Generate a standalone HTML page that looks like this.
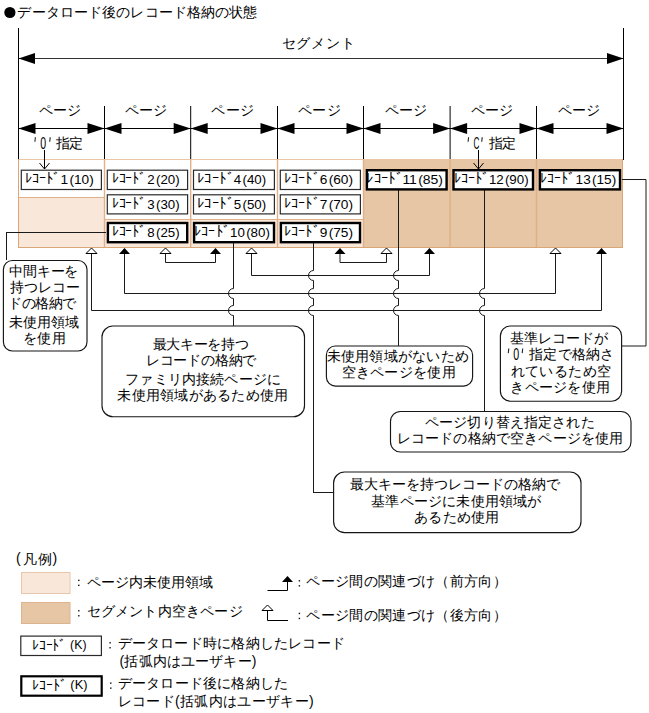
<!DOCTYPE html>
<html><head><meta charset="utf-8"><style>
html,body{margin:0;padding:0;background:#fff;width:649px;height:713px;overflow:hidden}
svg{display:block;font-family:"Liberation Sans",sans-serif}
text{fill:#000}
</style></head><body>
<svg width="649" height="713" viewBox="0 0 649 713">
<g id="shapes">
<circle cx="9.9" cy="12.5" r="5.6" fill="#000"/>
<line x1="18.5" y1="28" x2="18.5" y2="160" stroke="#000" stroke-width="1"/>
<line x1="623.5" y1="28" x2="623.5" y2="160" stroke="#000" stroke-width="1"/>
<line x1="19" y1="58.5" x2="623" y2="58.5" stroke="#333" stroke-width="1"/>
<polygon points="18.5,58.5 35,53 35,64" fill="#000" stroke="none" stroke-width="1"/>
<polygon points="623.5,58.5 607,53 607,64" fill="#000" stroke="none" stroke-width="1"/>
<line x1="18.5" y1="128.5" x2="104.5" y2="128.5" stroke="#000" stroke-width="1"/>
<polygon points="18.5,128.5 35.5,123 35.5,134" fill="#000" stroke="none" stroke-width="1"/>
<polygon points="104.5,128.5 87.5,123 87.5,134" fill="#000" stroke="none" stroke-width="1"/>
<line x1="104.5" y1="106" x2="104.5" y2="160" stroke="#000" stroke-width="1"/>
<line x1="104.5" y1="128.5" x2="190.7" y2="128.5" stroke="#000" stroke-width="1"/>
<polygon points="104.5,128.5 121.5,123 121.5,134" fill="#000" stroke="none" stroke-width="1"/>
<polygon points="190.7,128.5 173.7,123 173.7,134" fill="#000" stroke="none" stroke-width="1"/>
<line x1="190.7" y1="106" x2="190.7" y2="160" stroke="#000" stroke-width="1"/>
<line x1="190.7" y1="128.5" x2="277.5" y2="128.5" stroke="#000" stroke-width="1"/>
<polygon points="190.7,128.5 207.7,123 207.7,134" fill="#000" stroke="none" stroke-width="1"/>
<polygon points="277.5,128.5 260.5,123 260.5,134" fill="#000" stroke="none" stroke-width="1"/>
<line x1="277.5" y1="106" x2="277.5" y2="160" stroke="#000" stroke-width="1"/>
<line x1="277.5" y1="128.5" x2="363.5" y2="128.5" stroke="#000" stroke-width="1"/>
<polygon points="277.5,128.5 294.5,123 294.5,134" fill="#000" stroke="none" stroke-width="1"/>
<polygon points="363.5,128.5 346.5,123 346.5,134" fill="#000" stroke="none" stroke-width="1"/>
<line x1="363.5" y1="106" x2="363.5" y2="160" stroke="#000" stroke-width="1"/>
<line x1="363.5" y1="128.5" x2="450.1" y2="128.5" stroke="#000" stroke-width="1"/>
<polygon points="363.5,128.5 380.5,123 380.5,134" fill="#000" stroke="none" stroke-width="1"/>
<polygon points="450.1,128.5 433.1,123 433.1,134" fill="#000" stroke="none" stroke-width="1"/>
<line x1="450.1" y1="106" x2="450.1" y2="160" stroke="#000" stroke-width="1"/>
<line x1="450.1" y1="128.5" x2="536.5" y2="128.5" stroke="#000" stroke-width="1"/>
<polygon points="450.1,128.5 467.1,123 467.1,134" fill="#000" stroke="none" stroke-width="1"/>
<polygon points="536.5,128.5 519.5,123 519.5,134" fill="#000" stroke="none" stroke-width="1"/>
<line x1="536.5" y1="106" x2="536.5" y2="160" stroke="#000" stroke-width="1"/>
<line x1="536.5" y1="128.5" x2="623.5" y2="128.5" stroke="#000" stroke-width="1"/>
<polygon points="536.5,128.5 553.5,123 553.5,134" fill="#000" stroke="none" stroke-width="1"/>
<polygon points="623.5,128.5 606.5,123 606.5,134" fill="#000" stroke="none" stroke-width="1"/>
<rect x="18" y="197" width="86.5" height="51" fill="#F9E7DA"/>
<rect x="104.5" y="219.5" width="259" height="28.5" fill="#F9E7DA"/>
<rect x="363.5" y="159" width="259.5" height="89" fill="#E7C6A6"/>
<line x1="18" y1="159.5" x2="623" y2="159.5" stroke="#EBC7A6" stroke-width="1"/>
<line x1="104.5" y1="159.5" x2="104.5" y2="247.5" stroke="#DFB089" stroke-width="1.4"/>
<line x1="190.7" y1="159.5" x2="190.7" y2="247.5" stroke="#DFB089" stroke-width="1.4"/>
<line x1="277.5" y1="159.5" x2="277.5" y2="247.5" stroke="#DFB089" stroke-width="1.4"/>
<line x1="363.5" y1="159.5" x2="363.5" y2="247.5" stroke="#DFB089" stroke-width="1.4"/>
<line x1="450.1" y1="159.5" x2="450.1" y2="247.5" stroke="#DFB089" stroke-width="1.4"/>
<line x1="536.5" y1="159.5" x2="536.5" y2="247.5" stroke="#DFB089" stroke-width="1.4"/>
<line x1="18.5" y1="159" x2="18.5" y2="248" stroke="#D9A677" stroke-width="1"/>
<line x1="622.5" y1="159" x2="622.5" y2="248" stroke="#D9A677" stroke-width="1"/>
<line x1="18" y1="247.5" x2="623" y2="247.5" stroke="#D9A677" stroke-width="1"/>
<line x1="18.5" y1="197.5" x2="104.5" y2="197.5" stroke="#DFB089" stroke-width="1"/>
<line x1="104.5" y1="219.5" x2="363.5" y2="219.5" stroke="#DFB089" stroke-width="1"/>
<line x1="44.5" y1="150" x2="44.5" y2="169" stroke="#000" stroke-width="1"/>
<polyline points="39.5,163 44.5,169 49.5,163" fill="none" stroke="#000" stroke-width="1"/>
<line x1="478.5" y1="150" x2="478.5" y2="169" stroke="#000" stroke-width="1"/>
<polyline points="473.5,163 478.5,169 483.5,163" fill="none" stroke="#000" stroke-width="1"/>
<line x1="6.5" y1="232.5" x2="106" y2="232.5" stroke="#1a1a1a" stroke-width="1"/>
<line x1="6.5" y1="232" x2="6.5" y2="260" stroke="#1a1a1a" stroke-width="1"/>
<polyline points="91.5,253.5 91.5,310.5 601.5,310.5 601.5,254" fill="none" stroke="#1a1a1a" stroke-width="1"/>
<polygon points="91.5,248 86.0,253.5 97.0,253.5" fill="#fff" stroke="#000" stroke-width="1"/>
<polygon points="601.5,248 596.0,254 607.0,254" fill="#000" stroke="none" stroke-width="1"/>
<polyline points="124.5,254 124.5,293.5 555.5,293.5 555.5,253.5" fill="none" stroke="#1a1a1a" stroke-width="1"/>
<polygon points="124.5,248 119.0,254 130.0,254" fill="#000" stroke="none" stroke-width="1"/>
<polygon points="555.5,248 550.0,253.5 561.0,253.5" fill="#fff" stroke="#000" stroke-width="1"/>
<polyline points="165.5,253.5 165.5,262.5 215.5,262.5 215.5,254" fill="none" stroke="#1a1a1a" stroke-width="1"/>
<polygon points="165.5,248 160.0,253.5 171.0,253.5" fill="#fff" stroke="#000" stroke-width="1"/>
<polygon points="215.5,248 210.0,254 221.0,254" fill="#000" stroke="none" stroke-width="1"/>
<polyline points="251.5,253.5 251.5,275.5 429.5,275.5 429.5,254" fill="none" stroke="#1a1a1a" stroke-width="1"/>
<polygon points="251.5,248 246.0,253.5 257.0,253.5" fill="#fff" stroke="#000" stroke-width="1"/>
<polygon points="429.5,248 424.0,254 435.0,254" fill="#000" stroke="none" stroke-width="1"/>
<polyline points="340,254 340,262.5 386.5,262.5 386.5,253.5" fill="none" stroke="#1a1a1a" stroke-width="1"/>
<polygon points="340,248 334.5,254 345.5,254" fill="#000" stroke="none" stroke-width="1"/>
<polygon points="386.5,248 381.0,253.5 392.0,253.5" fill="#fff" stroke="#000" stroke-width="1"/>
<path d="M233.5,243 L233.5,288.5 A5,5 0 0 0 233.5,298.5 L233.5,305.5 A5,5 0 0 0 233.5,315.5 L233.5,326" fill="none" stroke="#1a1a1a" stroke-width="1"/>
<path d="M313.5,243 L313.5,270.5 A5,5 0 0 0 313.5,280.5 L313.5,288.5 A5,5 0 0 0 313.5,298.5 L313.5,305.5 A5,5 0 0 0 313.5,315.5 L313.5,492.5" fill="none" stroke="#1a1a1a" stroke-width="1"/>
<line x1="313" y1="492.5" x2="333.5" y2="492.5" stroke="#1a1a1a" stroke-width="1"/>
<path d="M398.5,190 L398.5,270.5 A5,5 0 0 0 398.5,280.5 L398.5,288.5 A5,5 0 0 0 398.5,298.5 L398.5,305.5 A5,5 0 0 0 398.5,315.5 L398.5,346" fill="none" stroke="#1a1a1a" stroke-width="1"/>
<path d="M484.5,190 L484.5,288.5 A5,5 0 0 0 484.5,298.5 L484.5,305.5 A5,5 0 0 0 484.5,315.5 L484.5,412" fill="none" stroke="#1a1a1a" stroke-width="1"/>
<polyline points="622,179.5 646,179.5 646,346 621.6,346" fill="none" stroke="#1a1a1a" stroke-width="1"/>
<rect x="21.3" y="170.2" width="80.1" height="19.3" fill="#fff" stroke="#2a2a2a" stroke-width="1.2" rx="0"/>
<rect x="107.3" y="170.2" width="80.29999999999998" height="19.3" fill="#fff" stroke="#2a2a2a" stroke-width="1.2" rx="0"/>
<rect x="107.3" y="194.79999999999998" width="80.29999999999998" height="19.100000000000012" fill="#fff" stroke="#2a2a2a" stroke-width="1.2" rx="0"/>
<rect x="107.9" y="223.0" width="79.29999999999997" height="19.199999999999996" fill="#fff" stroke="#000" stroke-width="2.4" rx="0"/>
<rect x="193.49999999999997" y="170.2" width="80.90000000000002" height="19.3" fill="#fff" stroke="#2a2a2a" stroke-width="1.2" rx="0"/>
<rect x="193.49999999999997" y="194.79999999999998" width="80.90000000000002" height="19.100000000000012" fill="#fff" stroke="#2a2a2a" stroke-width="1.2" rx="0"/>
<rect x="194.09999999999997" y="223.0" width="79.9" height="19.199999999999996" fill="#fff" stroke="#000" stroke-width="2.4" rx="0"/>
<rect x="280.3" y="170.2" width="80.10000000000001" height="19.3" fill="#fff" stroke="#2a2a2a" stroke-width="1.2" rx="0"/>
<rect x="280.3" y="194.79999999999998" width="80.10000000000001" height="19.100000000000012" fill="#fff" stroke="#2a2a2a" stroke-width="1.2" rx="0"/>
<rect x="280.9" y="223.0" width="79.1" height="19.199999999999996" fill="#fff" stroke="#000" stroke-width="2.4" rx="0"/>
<rect x="366.9" y="170.2" width="79.70000000000002" height="19.199999999999996" fill="#fff" stroke="#000" stroke-width="2.4" rx="0"/>
<rect x="453.5" y="170.2" width="79.50000000000003" height="19.199999999999996" fill="#fff" stroke="#000" stroke-width="2.4" rx="0"/>
<rect x="539.9000000000001" y="170.2" width="80.1" height="19.199999999999996" fill="#fff" stroke="#000" stroke-width="2.4" rx="0"/>
<rect x="3.4" y="260.5" width="83.6" height="90.5" fill="#fff" stroke="#151515" stroke-width="1.15" rx="9"/>
<rect x="102" y="326" width="202.5" height="90.69999999999999" fill="#fff" stroke="#151515" stroke-width="1.15" rx="11"/>
<rect x="326.4" y="346" width="146.20000000000005" height="40.10000000000002" fill="#fff" stroke="#151515" stroke-width="1.15" rx="9"/>
<rect x="500.4" y="326" width="121.20000000000005" height="75.19999999999999" fill="#fff" stroke="#151515" stroke-width="1.15" rx="10"/>
<rect x="390.5" y="411.5" width="240.5" height="40.5" fill="#fff" stroke="#151515" stroke-width="1.15" rx="10"/>
<rect x="333.6" y="472" width="247.39999999999998" height="60.60000000000002" fill="#fff" stroke="#151515" stroke-width="1.15" rx="11"/>
<rect x="21.5" y="572.5" width="48.5" height="21" fill="#F9E7DA" stroke="#E8C8AC" stroke-width="1" rx="0"/>
<rect x="21.5" y="602.5" width="48.5" height="21" fill="#E7C6A6" stroke="#DDB48E" stroke-width="1" rx="0"/>
<polyline points="267.5,590.5 287.5,590.5 287.5,581" fill="none" stroke="#000" stroke-width="1"/>
<polygon points="287.5,576 282.0,582 293.0,582" fill="#000" stroke="none" stroke-width="1"/>
<polyline points="267.5,610.5 267.5,620.5 288,620.5" fill="none" stroke="#000" stroke-width="1"/>
<polygon points="267.5,605 262.0,610.5 273.0,610.5" fill="#fff" stroke="#000" stroke-width="1"/>
<rect x="20.8" y="636.1" width="80.6" height="19.4" fill="#fff" stroke="#2a2a2a" stroke-width="1.2" rx="0"/>
<rect x="21.3" y="676.3" width="80.4" height="19.4" fill="#fff" stroke="#000" stroke-width="2.2" rx="0"/>
<rect x="78.1" y="579.65" width="1.4" height="1.4" fill="#111"/><rect x="78.1" y="584.65" width="1.4" height="1.4" fill="#111"/>
<rect x="78.1" y="610.05" width="1.4" height="1.4" fill="#111"/><rect x="78.1" y="615.05" width="1.4" height="1.4" fill="#111"/>
<rect x="298.7" y="580.0999999999999" width="1.4" height="1.4" fill="#111"/><rect x="298.7" y="585.0999999999999" width="1.4" height="1.4" fill="#111"/>
<rect x="298.7" y="612.75" width="1.4" height="1.4" fill="#111"/><rect x="298.7" y="617.75" width="1.4" height="1.4" fill="#111"/>
<rect x="109.39999999999999" y="642.05" width="1.4" height="1.4" fill="#111"/><rect x="109.39999999999999" y="647.05" width="1.4" height="1.4" fill="#111"/>
<rect x="110.1" y="682.4499999999999" width="1.4" height="1.4" fill="#111"/><rect x="110.1" y="687.4499999999999" width="1.4" height="1.4" fill="#111"/>
<line x1="35.4" y1="137.2" x2="34.9" y2="141.79999999999998" stroke="#222" stroke-width="1.1"/>
<line x1="50.199999999999996" y1="137.2" x2="49.699999999999996" y2="141.79999999999998" stroke="#222" stroke-width="1.1"/>
<line x1="468.6" y1="137.2" x2="468.1" y2="141.79999999999998" stroke="#222" stroke-width="1.1"/>
<line x1="482.2" y1="137.2" x2="481.7" y2="141.79999999999998" stroke="#222" stroke-width="1.1"/>
<line x1="508.8" y1="348.5" x2="508.3" y2="353.1" stroke="#222" stroke-width="1.1"/>
<line x1="522.6999999999999" y1="348.5" x2="522.1999999999999" y2="353.1" stroke="#222" stroke-width="1.1"/>
</g>
<g id="texts">
<text id="title" x="17.48" y="16.87" font-size="14" textLength="240.00">データロード後のレコード格納の状態</text>
<text id="seg" x="281.60" y="48.10" font-size="14" textLength="72.98">セグメント</text>
<text id="pg0" x="38.99" y="114.74" font-size="14" textLength="42.40">ページ</text>
<text id="pg1" x="124.88" y="114.74" font-size="14" textLength="42.40">ページ</text>
<text id="pg2" x="211.38" y="114.74" font-size="14" textLength="42.40">ページ</text>
<text id="pg3" x="298.24" y="114.74" font-size="14" textLength="42.40">ページ</text>
<text id="pg4" x="384.56" y="114.74" font-size="14" textLength="42.40">ページ</text>
<text id="pg5" x="471.06" y="114.74" font-size="14" textLength="42.40">ページ</text>
<text id="pg6" x="557.74" y="114.74" font-size="14" textLength="42.40">ページ</text>
<text id="z0k" x="56.12" y="148.00" font-size="14" textLength="26.72">指定</text>
<text id="zcn" x="473.50" y="148.90" font-size="16" textLength="5.88" lengthAdjust="spacingAndGlyphs">C</text>
<text id="z0n" x="40.28" y="148.90" font-size="16" textLength="5.88" lengthAdjust="spacingAndGlyphs">0</text>
<text id="zck" x="489.34" y="148.00" font-size="14" textLength="26.22">指定</text>
<text id="b4n" x="513.22" y="359.90" font-size="16" textLength="5.94" lengthAdjust="spacingAndGlyphs">0</text>
<text id="b1_0" x="9.10" y="276.25" font-size="14" textLength="69.28">中間キーを</text>
<text id="b1_1" x="9.76" y="292.01" font-size="14" textLength="69.74">持つレコー</text>
<text id="b1_2" x="8.00" y="308.23" font-size="14" textLength="68.10">ドの格納で</text>
<text id="b1_3" x="8.86" y="326.61" font-size="14" textLength="69.74">未使用領域</text>
<text id="b1_4" x="22.58" y="342.85" font-size="14" textLength="43.44">を使用</text>
<text id="b2_0" x="152.86" y="349.37" font-size="14" textLength="95.78">最大キーを持つ</text>
<text id="b2_1" x="145.70" y="365.48" font-size="14" textLength="110.66">レコードの格納で</text>
<text id="b2_2" x="125.24" y="384.00" font-size="14" textLength="155.78">ファミリ内接続ページに</text>
<text id="b2_3" x="117.36" y="400.36" font-size="14" textLength="170.78">未使用領域があるため使用</text>
<text id="b3_0" x="326.60" y="361.22" font-size="14" textLength="142.28">未使用領域がないため</text>
<text id="b3_1" x="341.62" y="377.23" font-size="14" textLength="114.02">空きページを使用</text>
<text id="b4_0" x="509.74" y="342.50" font-size="14" textLength="98.12">基準レコードが</text>
<text id="b4_1" x="529.26" y="359.26" font-size="14" textLength="84.82">指定で格納さ</text>
<text id="b4_2" x="510.64" y="375.75" font-size="14" textLength="100.38">れているため空</text>
<text id="b4_3" x="510.20" y="391.61" font-size="14" textLength="99.82">きページを使用</text>
<text id="b5_0" x="424.86" y="427.37" font-size="14" textLength="169.78">ページ切り替え指定された</text>
<text id="b5_1" x="396.58" y="443.24" font-size="14" textLength="226.80">レコードの格納で空きページを使用</text>
<text id="b6_0" x="349.60" y="489.38" font-size="14" textLength="210.38">最大キーを持つレコードの格納で</text>
<text id="b6_1" x="371.24" y="506.00" font-size="14" textLength="170.00">基準ページに未使用領域が</text>
<text id="b6_2" x="414.24" y="522.10" font-size="14" textLength="84.90">あるため使用</text>
<text id="l1" x="23.22" y="563.66" font-size="14" textLength="28.34">凡例</text>
<text id="lpa" x="15.91" y="563.38" font-size="14" textLength="4.70">(</text>
<text id="lpb" x="52.58" y="563.38" font-size="14" textLength="4.70">)</text>
<text id="l2" x="86.74" y="587.01" font-size="14" textLength="126.62">ページ内未使用領域</text>
<text id="l3" x="86.74" y="616.11" font-size="14" textLength="155.78">セグメント内空きページ</text>
<text id="l4" x="306.48" y="586.49" font-size="14" textLength="200.12">ページ間の関連づけ（前方向）</text>
<text id="l5" x="306.48" y="619.88" font-size="14" textLength="200.12">ページ間の関連づけ（後方向）</text>
<text id="l6" x="117.60" y="648.10" font-size="14" textLength="227.18">データロード時に格納したレコード</text>
<text id="l7" x="119.50" y="666.05" font-size="14" textLength="137.00">(括弧内はユーザキー)</text>
<text id="l8" x="117.60" y="688.10" font-size="14" textLength="170.54">データロード後に格納した</text>
<text id="l9" x="117.70" y="706.15" font-size="14" textLength="195.90">レコード(括弧内はユーザキー)</text>
<text id="rk1" x="24.73" y="183.24" font-size="14" textLength="35.84" lengthAdjust="spacingAndGlyphs">ﾚｺｰﾄﾞ</text>
<text id="rp1" x="60.54" y="184.09" font-size="13" textLength="33.21" lengthAdjust="spacingAndGlyphs">1<tspan dx="1.2">(10)</tspan></text>
<text id="rk2" x="111.52" y="183.24" font-size="14" textLength="34.94" lengthAdjust="spacingAndGlyphs">ﾚｺｰﾄﾞ</text>
<text id="rp2" x="147.33" y="184.09" font-size="13" textLength="32.31" lengthAdjust="spacingAndGlyphs">2<tspan dx="1.2">(20)</tspan></text>
<text id="rk3" x="111.52" y="208.24" font-size="14" textLength="34.94" lengthAdjust="spacingAndGlyphs">ﾚｺｰﾄﾞ</text>
<text id="rp3" x="147.33" y="209.09" font-size="13" textLength="32.31" lengthAdjust="spacingAndGlyphs">3<tspan dx="1.2">(30)</tspan></text>
<text id="rk8" x="111.52" y="235.74" font-size="14" textLength="34.94" lengthAdjust="spacingAndGlyphs">ﾚｺｰﾄﾞ</text>
<text id="rp8" x="147.33" y="236.59" font-size="13" textLength="32.31" lengthAdjust="spacingAndGlyphs">8<tspan dx="1.2">(25)</tspan></text>
<text id="rk4" x="197.12" y="183.24" font-size="14" textLength="36.74" lengthAdjust="spacingAndGlyphs">ﾚｺｰﾄﾞ</text>
<text id="rp4" x="233.83" y="184.09" font-size="13" textLength="32.31" lengthAdjust="spacingAndGlyphs">4<tspan dx="1.2">(40)</tspan></text>
<text id="rk5" x="197.12" y="208.24" font-size="14" textLength="36.74" lengthAdjust="spacingAndGlyphs">ﾚｺｰﾄﾞ</text>
<text id="rp5" x="233.83" y="209.09" font-size="13" textLength="32.31" lengthAdjust="spacingAndGlyphs">5<tspan dx="1.2">(50)</tspan></text>
<text id="rk10" x="194.13" y="235.74" font-size="14" textLength="35.84" lengthAdjust="spacingAndGlyphs">ﾚｺｰﾄﾞ</text>
<text id="rp10" x="230.12" y="236.59" font-size="13" textLength="39.73" lengthAdjust="spacingAndGlyphs">10<tspan dx="1.2">(80)</tspan></text>
<text id="rk6" x="283.98" y="183.24" font-size="14" textLength="35.84" lengthAdjust="spacingAndGlyphs">ﾚｺｰﾄﾞ</text>
<text id="rp6" x="319.79" y="184.09" font-size="13" textLength="33.21" lengthAdjust="spacingAndGlyphs">6<tspan dx="1.2">(60)</tspan></text>
<text id="rk7" x="283.98" y="208.24" font-size="14" textLength="35.84" lengthAdjust="spacingAndGlyphs">ﾚｺｰﾄﾞ</text>
<text id="rp7" x="319.79" y="209.09" font-size="13" textLength="33.21" lengthAdjust="spacingAndGlyphs">7<tspan dx="1.2">(70)</tspan></text>
<text id="rk9" x="283.98" y="235.74" font-size="14" textLength="35.84" lengthAdjust="spacingAndGlyphs">ﾚｺｰﾄﾞ</text>
<text id="rp9" x="319.79" y="236.59" font-size="13" textLength="33.21" lengthAdjust="spacingAndGlyphs">9<tspan dx="1.2">(75)</tspan></text>
<text id="rk11" x="366.41" y="183.24" font-size="14" textLength="36.74" lengthAdjust="spacingAndGlyphs">ﾚｺｰﾄﾞ</text>
<text id="rp11" x="402.40" y="184.09" font-size="13" textLength="40.63" lengthAdjust="spacingAndGlyphs">11<tspan dx="1.2">(85)</tspan></text>
<text id="rk12" x="453.81" y="183.24" font-size="14" textLength="35.84" lengthAdjust="spacingAndGlyphs">ﾚｺｰﾄﾞ</text>
<text id="rp12" x="488.90" y="184.09" font-size="13" textLength="39.73" lengthAdjust="spacingAndGlyphs">12<tspan dx="1.2">(90)</tspan></text>
<text id="rk13" x="540.49" y="183.24" font-size="14" textLength="34.94" lengthAdjust="spacingAndGlyphs">ﾚｺｰﾄﾞ</text>
<text id="rp13" x="575.58" y="184.09" font-size="13" textLength="40.63" lengthAdjust="spacingAndGlyphs">13<tspan dx="1.2">(15)</tspan></text>
<text id="lka1" x="31.74" y="650.00" font-size="14" textLength="34.58" lengthAdjust="spacingAndGlyphs">ﾚｺｰﾄﾞ</text>
<text id="lkb1" x="70.12" y="648.88" font-size="13" textLength="16.38" lengthAdjust="spacingAndGlyphs">(K)</text>
<text id="lka2" x="32.24" y="690.00" font-size="14" textLength="34.82" lengthAdjust="spacingAndGlyphs">ﾚｺｰﾄﾞ</text>
<text id="lkb2" x="70.36" y="688.50" font-size="13" textLength="17.14" lengthAdjust="spacingAndGlyphs">(K)</text>
</g>
</svg></body></html>
